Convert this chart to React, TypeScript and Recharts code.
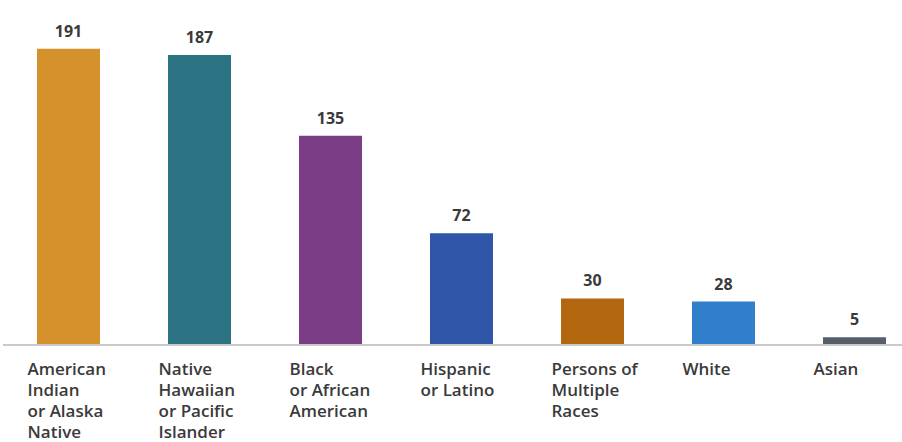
import React from "react";
import { BarChart, Bar, XAxis, YAxis, Cell, LabelList } from "recharts";

const categories = [
  "American\nIndian\nor Alaska\nNative",
  "Native\nHawaiian\nor Pacific\nIslander",
  "Black\nor African\nAmerican",
  "Hispanic\nor Latino",
  "Persons of\nMultiple\nRaces",
  "White",
  "Asian",
];

const values = [191, 187, 135, 72, 30, 28, 5];

const barColors = [
  "#D4912C",
  "#2C7383",
  "#7C3D87",
  "#2F56A8",
  "#B2670F",
  "#2F7FCC",
  "#565F69",
];

const textColor = "#3a3a3a";
const fontFamily = "'Open Sans', 'DejaVu Sans', sans-serif";

const data = categories.map((name, i) => ({ name, value: values[i] }));

function CategoryTick(props: any) {
  const { x, y, payload } = props;
  const lines = String(payload.value).split("\n");
  return (
    <text
      x={x - 41}
      y={y + 30}
      fill={textColor}
      fontSize={17}
      fontWeight={600}
      fontFamily={fontFamily}
      textAnchor="start"
    >
      {lines.map((line, i) => (
        <tspan key={i} x={x - 41} dy={i === 0 ? 0 : 21}>
          {line}
        </tspan>
      ))}
    </text>
  );
}

export default function App() {
  return (
    <div
      style={{
        position: "absolute",
        left: 0,
        top: 0,
        width: 902,
        height: 442,
        overflow: "hidden",
        background: "#fff",
      }}
    >
      <BarChart
        width={920}
        height={442}
        data={data}
        margin={{ top: 10, right: 0, bottom: 0, left: 3 }}
      >
        <XAxis
          dataKey="name"
          interval={0}
          height={97}
          tickLine={false}
          tickSize={0}
          tickMargin={0}
          axisLine={{ stroke: "#c9c9c9", strokeWidth: 2 }}
          tick={<CategoryTick />}
        />
        <YAxis hide domain={[0, 216]} />
        <Bar dataKey="value" barSize={63} isAnimationActive={false}>
          {data.map((_, i) => (
            <Cell key={`cell-${i}`} fill={barColors[i]} />
          ))}
          <LabelList
            dataKey="value"
            position="top"
            offset={12}
            fill={textColor}
            fontSize={16}
            fontWeight={700}
            fontFamily={fontFamily}
          />
        </Bar>
      </BarChart>
    </div>
  );
}
